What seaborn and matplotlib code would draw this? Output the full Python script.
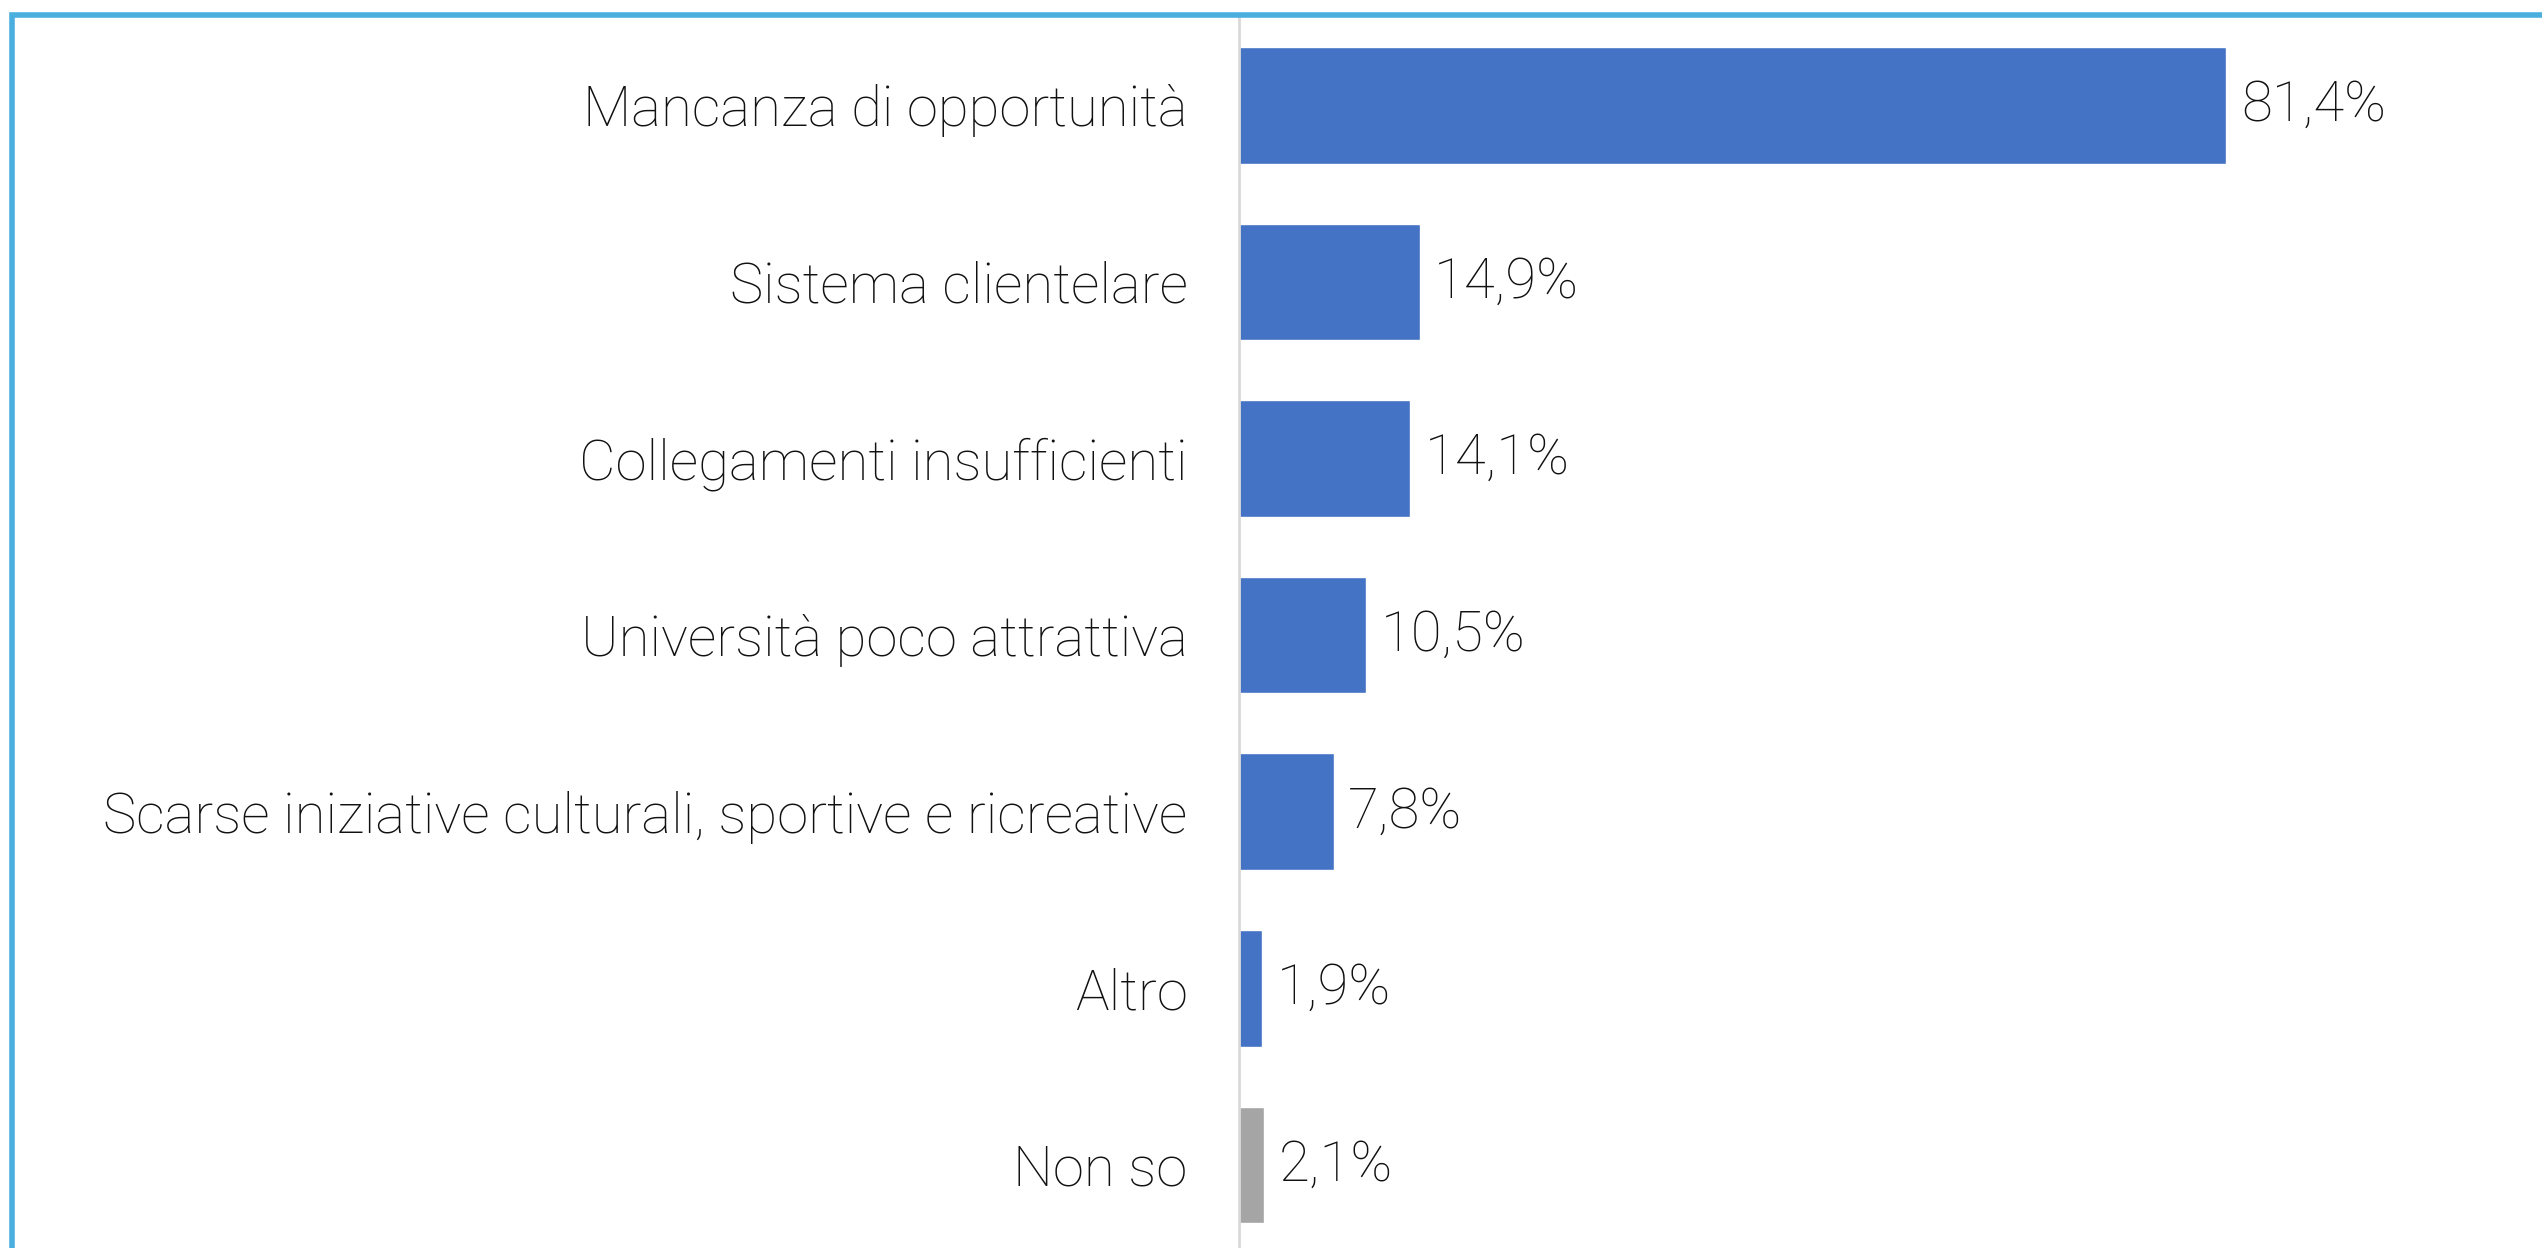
import matplotlib
matplotlib.use('Agg')
import matplotlib.pyplot as plt
import seaborn as sns
from matplotlib.patches import Rectangle

sns.set_style('white')
plt.rcParams['font.family'] = ['Roboto', 'DejaVu Sans']

categories = ['Mancanza di opportunità', 'Sistema clientelare', 'Collegamenti insufficienti',
              'Università poco attrattiva', 'Scarse iniziative culturali, sportive e ricreative',
              'Altro', 'Non so']
values = [81.4, 14.9, 14.1, 10.5, 7.8, 1.9, 2.1]
colors = ['#4472C4'] * 6 + ['#A5A5A5']

W, H = 2542, 1248
fig = plt.figure(figsize=(W / 100, H / 100), dpi=100)
ax = fig.add_axes([1239 / W, 0, 1 - 1239 / W, (H - 17) / H])

sns.barplot(x=values, y=categories, hue=categories, palette=colors, legend=False,
            orient='h', width=0.66, saturation=1, ax=ax)

ax.set_xlim(0, (W - 1239) / 12.13)
ax.set_ylim(6.47, -0.5)
for s in ['top', 'right', 'bottom']:
    ax.spines[s].set_visible(False)
ax.spines['left'].set_color('#D9D9D9')
ax.spines['left'].set_linewidth(2)
ax.set_xticks([])
ax.tick_params(axis='y', length=0, pad=37, labelsize=40.5)
for t in ax.get_yticklabels():
    t.set_fontweight('light')
    t.set_color('#111111')
ax.set_xlabel('')
ax.set_ylabel('')

for i, v in enumerate(values):
    ax.text(v + 1.2, i, f'{v:.1f}%'.replace('.', ','), va='center', ha='left',
            fontsize=40.5, fontweight='light', color='#111111')

# blue frame on top and left
fig.patches.append(Rectangle((12 / W, -0.1), 1.2, (H - 15) / H + 0.1, transform=fig.transFigure,
                             fill=False, edgecolor='#4AAEDF', linewidth=4, zorder=10))

fig.savefig('out.png', dpi=100)
